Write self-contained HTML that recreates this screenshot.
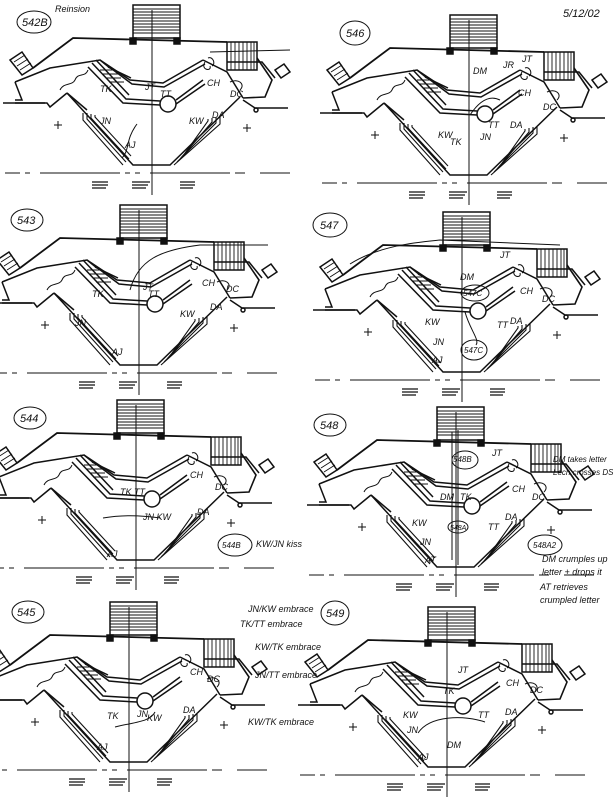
<!DOCTYPE html>
<html><head><meta charset="utf-8"><style>
html,body{margin:0;padding:0;background:#fff;}
svg{display:block}
text{font-family:"Liberation Sans",sans-serif;fill:#111;}
.h{font-family:"Liberation Serif",serif;font-style:italic;font-size:9px}
.n{font-size:11px;font-family:"Liberation Serif",serif;font-style:italic}
</style></head><body>
<svg width="613" height="800" viewBox="0 0 613 800" xmlns="http://www.w3.org/2000/svg">
<defs>
<g id="s" fill="none" stroke="#111" stroke-width="1.5">
  <rect x="133" y="5" width="47" height="33"/>
  <path d="M133 9H180M133 12H180M133 15H180M133 18H180M133 21H180M133 24H180M133 27H180M133 30H180M133 33H180" stroke-width="0.9"/>
  <rect x="130" y="38" width="6" height="6" fill="#111"/>
  <rect x="174" y="38" width="6" height="6" fill="#111"/>
  <path d="M33 68L73 38L227 42" stroke-width="1.8"/>
  <polygon points="10,60 22,52 33,68 22,75"/>
  <path d="M14 62L25 55M17 66L28 59M20 70L31 63" stroke-width="0.9"/>
  <rect x="227" y="42" width="30" height="28"/>
  <path d="M231 42V70M235 42V70M239 42V70M243 42V70M247 42V70M251 42V70M254 42V70" stroke-width="0.9"/>
  <path d="M257 58L272 80L265 97L243 98" stroke-width="1.6"/>
  <polygon points="275,70 284,64 290,72 281,78"/>
  <path d="M227 62L262 62L275 78"/>
  <path d="M15 82L50 68L100 60L110 68"/>
  <path d="M15 82L22 100L15 100M15 103L47 103L50 107L67 93"/>
  <path d="M3 103H45"/>
  <path d="M60 90C64 82 72 86 75 80C78 72 85 78 88 70" stroke-width="1"/>
  <path d="M100 60L130 80L163 83L203 60"/>
  <path d="M104 63L132 84L164 87L205 64"/>
  <path d="M108 67L131 78"/>
  <path d="M88 67L123 103L160 105"/>
  <path d="M92 63L126 99L160 101"/>
  <path d="M96 60L129 95"/>
  <path d="M176 100L203 80M176 104L205 84"/>
  <path d="M100 70L115 70M103 74L118 74M106 78L121 78M109 82L124 82" stroke-width="0.9"/>
  <circle cx="168" cy="104" r="8"/>
  <path d="M203 60L227 72L243 98"/>
  <path d="M205 62C200 70 212 72 210 66M208 58C213 56 216 64 212 66" stroke-width="1"/>
  <path d="M230 82C238 78 246 84 240 90" stroke-width="1"/>
  <path d="M67 93L133 165L170 165L240 97" stroke-width="1.5"/>
  <path d="M67 93L87 110" />
  <path d="M83 113L83 120L123 165M87 113L87 119L126 162M91 114L91 118L129 159M95 115L95 117L131 156" stroke-width="1.1"/>
  <path d="M220 117L220 124L174 165M216 117L216 123L177 162M212 118L212 122L180 159M208 119L208 121L183 156" stroke-width="1.1"/>
  <path d="M255 108H288M243 100L255 108" />
  <circle cx="256" cy="110" r="2"/>
  <path d="M58 121V129M54 125H62M247 124V132M243 128H251" stroke-width="1"/>
  <path d="M152 10V195" stroke-width="1"/>
  <path d="M5 173H20M25 173H30M40 173H120M125 173H130M135 173H140M150 173H230M235 173H245M260 173H290" stroke-width="1"/>
  <path d="M92 182H108M92 185H108M92 188H106M132 182H150M132 185H148M132 188H146M180 182H195M180 185H195M180 188H193" stroke-width="1.2"/>
</g>
</defs>
<use href="#s" transform="translate(0,0)"/>
<use href="#s" transform="translate(317,10)"/>
<use href="#s" transform="translate(-13,200)"/>
<use href="#s" transform="translate(310,207)"/>
<use href="#s" transform="translate(-16,395)"/>
<use href="#s" transform="translate(304,402)"/>
<use href="#s" transform="translate(-23,597)"/>
<use href="#s" transform="translate(295,602)"/>

<g fill="none" stroke="#111" stroke-width="1">
<ellipse cx="34" cy="22" rx="17" ry="11"/>
<ellipse cx="355" cy="33" rx="15" ry="12"/>
<ellipse cx="27" cy="220" rx="16" ry="11"/>
<ellipse cx="330" cy="225" rx="17" ry="12"/>
<ellipse cx="30" cy="418" rx="16" ry="11"/>
<ellipse cx="330" cy="425" rx="16" ry="11"/>
<ellipse cx="28" cy="612" rx="16" ry="11"/>
<ellipse cx="335" cy="613" rx="14" ry="12"/>
<ellipse cx="475" cy="293" rx="14" ry="8"/>
<ellipse cx="474" cy="350" rx="13" ry="10"/>
<ellipse cx="465" cy="460" rx="13" ry="9"/>
<ellipse cx="458" cy="527" rx="10" ry="6"/>
<ellipse cx="235" cy="545" rx="17" ry="11"/>
<ellipse cx="545" cy="545" rx="17" ry="10"/>
<path d="M137 124C125 140 130 150 122 158"/>
<path d="M210 52L290 50M350 264C380 245 420 242 440 240L560 245"/>
<path d="M130 290C138 260 160 250 200 245L268 245"/>
<path d="M452 432V560M458 430V565"/>
<path d="M103 518C120 515 140 515 160 518"/>
<path d="M115 727C135 722 150 722 155 712"/>
<path d="M418 733C430 715 465 715 485 722"/>
<path d="M465 312C470 330 480 340 476 345"/>
<path d="M470 115C480 100 490 95 500 100"/>
</g>

<g class="h">
<text x="55" y="12">Reinsion</text>
<text x="563" y="17" font-size="11">5/12/02</text>
<text x="100" y="92">TK</text><text x="145" y="90">JT</text><text x="160" y="97">TT</text>
<text x="207" y="86">CH</text><text x="230" y="97">DC</text>
<text x="100" y="124">JN</text><text x="189" y="124">KW</text><text x="212" y="118">DA</text><text x="125" y="148">AJ</text>
<text x="473" y="74">DM</text><text x="503" y="68">JR</text><text x="522" y="62">JT</text>
<text x="518" y="96">CH</text><text x="543" y="110">DC</text>
<text x="438" y="138">KW</text><text x="450" y="145">TK</text><text x="480" y="140">JN</text><text x="488" y="128">TT</text><text x="510" y="128">DA</text>
<text x="92" y="297">TK</text><text x="143" y="290">JT</text><text x="148" y="297">TT</text>
<text x="202" y="286">CH</text><text x="226" y="292">DC</text><text x="75" y="326">JN</text><text x="180" y="317">KW</text><text x="210" y="310">DA</text><text x="112" y="355">AJ</text>
<text x="500" y="258">JT</text><text x="460" y="280">DM</text><text x="463" y="296" font-size="8">547C</text>
<text x="520" y="294">CH</text><text x="542" y="302">DC</text><text x="425" y="325">KW</text><text x="497" y="328">TT</text><text x="510" y="324">DA</text><text x="433" y="345">JN</text><text x="464" y="353" font-size="8">547C</text><text x="432" y="363">AJ</text>
<text x="120" y="495">TK TT</text><text x="190" y="478">CH</text><text x="215" y="490">DC</text>
<text x="143" y="520">JN KW</text><text x="197" y="515">DA</text><text x="107" y="557">AJ</text>
<text x="222" y="548" font-size="8">544B</text><text x="256" y="547">KW/JN kiss</text>
<text x="553" y="462" font-size="8">DM takes letter</text><text x="553" y="475" font-size="8">Lech crosses DS</text>
<text x="453" y="462" font-size="8">548B</text><text x="492" y="456">JT</text>
<text x="440" y="500">DM</text><text x="460" y="500">TK</text><text x="512" y="492">CH</text><text x="532" y="500">DC</text>
<text x="412" y="526">KW</text><text x="450" y="530" font-size="7">548A</text><text x="488" y="530">TT</text><text x="505" y="520">DA</text><text x="420" y="545">JN</text><text x="425" y="563">AT</text>
<text x="533" y="548" font-size="8">548A2</text>
<text x="542" y="562">DM crumples up</text><text x="542" y="575">letter + drops it</text>
<text x="540" y="590">AT retrieves</text><text x="540" y="603">crumpled letter</text>
<text x="248" y="612">JN/KW embrace</text><text x="240" y="627">TK/TT embrace</text>
<text x="255" y="650">KW/TK embrace</text><text x="255" y="678">JN/TT embrace</text>
<text x="190" y="675">CH</text><text x="207" y="682">DC</text>
<text x="107" y="719">TK</text><text x="137" y="717">JN</text><text x="147" y="721">KW</text><text x="183" y="713">DA</text>
<text x="248" y="725">KW/TK embrace</text><text x="97" y="750">AJ</text>
<text x="458" y="673">JT</text><text x="443" y="694">TK</text><text x="506" y="686">CH</text><text x="530" y="693">DC</text>
<text x="403" y="718">KW</text><text x="478" y="718">TT</text><text x="505" y="715">DA</text><text x="407" y="733">JN</text><text x="447" y="748">DM</text><text x="418" y="760">AJ</text>
</g>
<g class="n">
<text x="22" y="26">542B</text>
<text x="346" y="37">546</text>
<text x="17" y="224">543</text>
<text x="320" y="229">547</text>
<text x="20" y="422">544</text>
<text x="320" y="429">548</text>
<text x="17" y="616">545</text>
<text x="326" y="617">549</text>
</g>
</svg>
</body></html>
